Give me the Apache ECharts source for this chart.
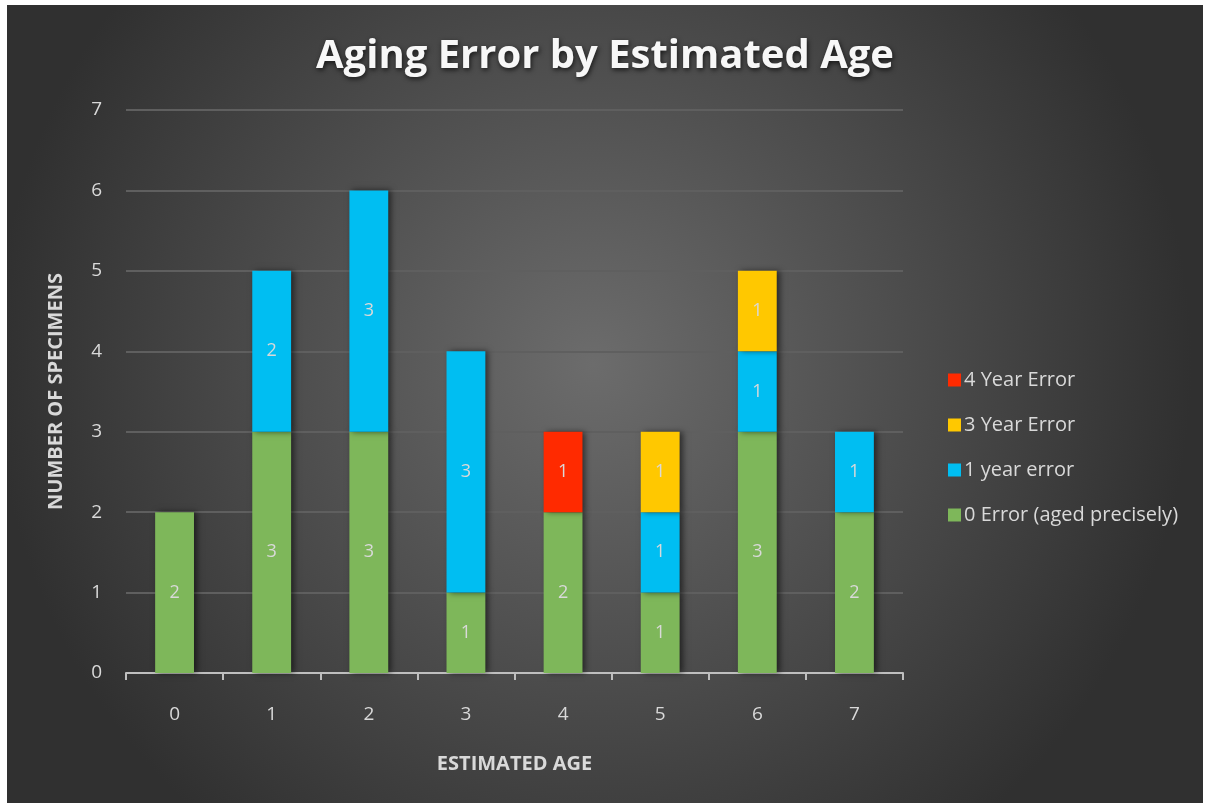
<!DOCTYPE html>
<html>
<head>
<meta charset="utf-8">
<script src="https://cdn.jsdelivr.net/npm/echarts@6/dist/echarts.min.js"></script>
<style>
html,body{margin:0;padding:0;background:#ffffff;width:1205px;height:803px;overflow:hidden;}
#chart{position:absolute;left:7px;top:5px;width:1196px;height:798px;}
</style>
</head>
<body>
<div id="chart"></div>
<script>
var categories = ['0','1','2','3','4','5','6','7'];
var zeroError = [2,3,3,1,2,1,3,2];
var oneYearError = [null,2,3,3,null,1,1,1];
var threeYearError = [null,null,null,null,null,1,1,null];
var fourYearError = [null,null,null,null,1,null,null,null];
var yTicks = [0,1,2,3,4,5,6,7];

var FONT = '"Open Sans", Lato, sans-serif';
var labelStyle = {show:true, position:'inside', color:'#d9d9d9', fontSize:18, fontFamily:FONT};
var shadow = {shadowBlur:6, shadowColor:'rgba(0,0,0,0.55)', shadowOffsetX:3, shadowOffsetY:0};

function mk(name, data, color){
  return {
    name:name, type:'bar', stack:'total', data:data, barWidth:'40%',
    itemStyle:Object.assign({color:color}, shadow),
    label:labelStyle,
    emphasis:{disabled:true}
  };
}

var chart = echarts.init(document.getElementById('chart'));
chart.setOption({
  animation:false,
  backgroundColor:{type:'radial', x:0.49, y:0.45, r:0.75,
    colorStops:[{offset:0,color:'#6c6c6c'},{offset:0.5,color:'#4e4e4e'},{offset:1,color:'#303030'}]},
  title:{
    text:'Aging Error by Estimated Age',
    left:'center', top:27,
    textStyle:{color:'#f7f7f7', fontSize:40, fontWeight:'bold', fontFamily:FONT,
      textShadowColor:'rgba(0,0,0,0.7)', textShadowBlur:5, textShadowOffsetX:1, textShadowOffsetY:2}
  },
  legend:{
    orient:'vertical', left:936, top:360,
    itemWidth:13, itemHeight:13, itemGap:25,
    icon:'rect',
    data:['4 Year Error','3 Year Error','1 year error','0 Error (aged precisely)'],
    textStyle:{color:'#d9d9d9', fontSize:20, lineHeight:13, fontFamily:FONT, padding:[0,0,0,-2]}
  },
  grid:{left:119, right:300, top:105, bottom:130, containLabel:false},
  xAxis:{
    type:'category', data:categories,
    name:'ESTIMATED AGE', nameLocation:'middle', nameGap:81,
    nameTextStyle:{color:'#d9d9d9', fontSize:20, fontWeight:'bold', fontFamily:FONT},
    axisLine:{show:true, lineStyle:{color:'#bfbfbf', width:2}},
    axisTick:{show:true, length:7, lineStyle:{color:'#bfbfbf', width:2}},
    axisLabel:{color:'#d9d9d9', fontSize:19, fontFamily:FONT, margin:32},
    splitLine:{show:false}
  },
  yAxis:{
    type:'value', min:0, max:7, interval:1,
    name:'NUMBER OF SPECIMENS', nameLocation:'middle', nameGap:60, nameRotate:90,
    nameTextStyle:{color:'#d9d9d9', fontSize:20, fontWeight:'bold', fontFamily:FONT},
    axisLine:{show:false}, axisTick:{show:false},
    axisLabel:{color:'#d9d9d9', fontSize:19, fontFamily:FONT, margin:24,
      formatter:function(v){return yTicks.indexOf(v)>=0 ? String(v) : '';}},
    splitLine:{lineStyle:{color:'#5f5f5f', width:2}}
  },
  series:[
    mk('0 Error (aged precisely)', zeroError, '#7EB75A'),
    mk('1 year error', oneYearError, '#00BEF2'),
    mk('3 Year Error', threeYearError, '#FFC800'),
    mk('4 Year Error', fourYearError, '#FF2A00')
  ]
});
</script>
</body>
</html>
